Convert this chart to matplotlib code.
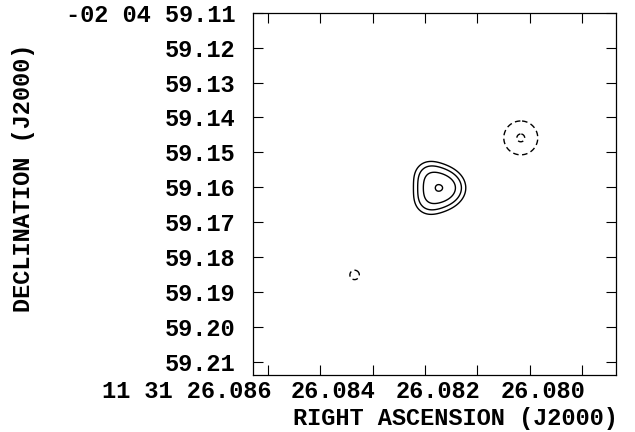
import matplotlib
matplotlib.use("Agg")
import matplotlib.pyplot as plt
import matplotlib.transforms as mtransforms
import numpy as np

plt.rcParams['font.family'] = ['Liberation Mono', 'DejaVu Sans Mono']
plt.rcParams['font.weight'] = 'bold'

# axis ticks and labels (RA seconds, Dec arcsec)
ra_ticks = [26.086, 26.085, 26.084, 26.083, 26.082, 26.081, 26.080]
ra_ticklabels = ["11 31 26.086", "", "26.084", "", "26.082", "", "26.080"]
dec_ticks = [59.11, 59.12, 59.13, 59.14, 59.15, 59.16, 59.17, 59.18, 59.19, 59.20, 59.21]
dec_ticklabels = ["-02 04 59.11", "59.12", "59.13", "59.14", "59.15", "59.16",
                  "59.17", "59.18", "59.19", "59.20", "59.21"]

# source components (peak in units of the lowest contour)
comp_ra = [26.082736, 26.082946, 26.082946, 26.082468, 26.081169, 26.084345]
comp_dec = [59.1602, 59.15618, 59.16421, 59.1602, 59.14587, 59.18513]
comp_peak = [7.45, 1.6, 1.6, 1.3, -2.08, -1.08]
comp_sig_ra = [0.000225, 0.000172, 0.000172, 0.000172, 0.000268, 0.00023]
comp_sig_dec = [0.003295, 0.002579, 0.002579, 0.002579, 0.00401, 0.00344]

# contour levels (multiples of the lowest level)
levels = [-2, -1, 1, 2, 4, 8]

ra_lim = (26.086292, 26.07935)
dec_lim = (59.21395, 59.11)

# build the map
ra = np.linspace(ra_lim[1], ra_lim[0], 500)
dec = np.linspace(dec_lim[1], dec_lim[0], 500)
RA, DEC = np.meshgrid(ra, dec)
img = np.zeros_like(RA)
for r0, d0, p, sr, sd in zip(comp_ra, comp_dec, comp_peak, comp_sig_ra, comp_sig_dec):
    img += p * np.exp(-0.5 * (((RA - r0) / sr) ** 2 + ((DEC - d0) / sd) ** 2))

fig = plt.figure(figsize=(6.35, 4.32), dpi=100)
ax = fig.add_axes([0.398, 0.1308, 0.572, 0.8398])

styles = [(0, (4, 2.5)) if lv < 0 else 'solid' for lv in levels]
ax.contour(RA, DEC, img, levels=levels, colors='k', linewidths=1.0, linestyles=styles)

ax.set_xlim(ra_lim)
ax.set_ylim(dec_lim)

ax.set_xticks(ra_ticks)
ax.set_xticklabels(ra_ticklabels, fontsize=17, ha='right')
ax.set_yticks(dec_ticks)
ax.set_yticklabels(dec_ticklabels, fontsize=17)

ax.tick_params(direction='in', length=7, width=0.8, top=True, right=True)
ax.tick_params(axis='x', pad=3.5)
ax.tick_params(axis='y', pad=12.5)
for sp in ax.spines.values():
    sp.set_linewidth(0.9)

# RA labels sit left of their ticks in the original
shift = mtransforms.ScaledTranslation(3 / 100, 0, fig.dpi_scale_trans)
for lab in ax.get_xticklabels():
    lab.set_transform(lab.get_transform() + shift)

fig.text(618 / 635, 1 - 419 / 432, "RIGHT ASCENSION (J2000)", fontsize=17,
         ha='right', va='center')
fig.text(24 / 635, 1 - 178 / 432, "DECLINATION (J2000)", fontsize=17,
         rotation=90, ha='center', va='center')

fig.savefig("out.png", dpi=100)
